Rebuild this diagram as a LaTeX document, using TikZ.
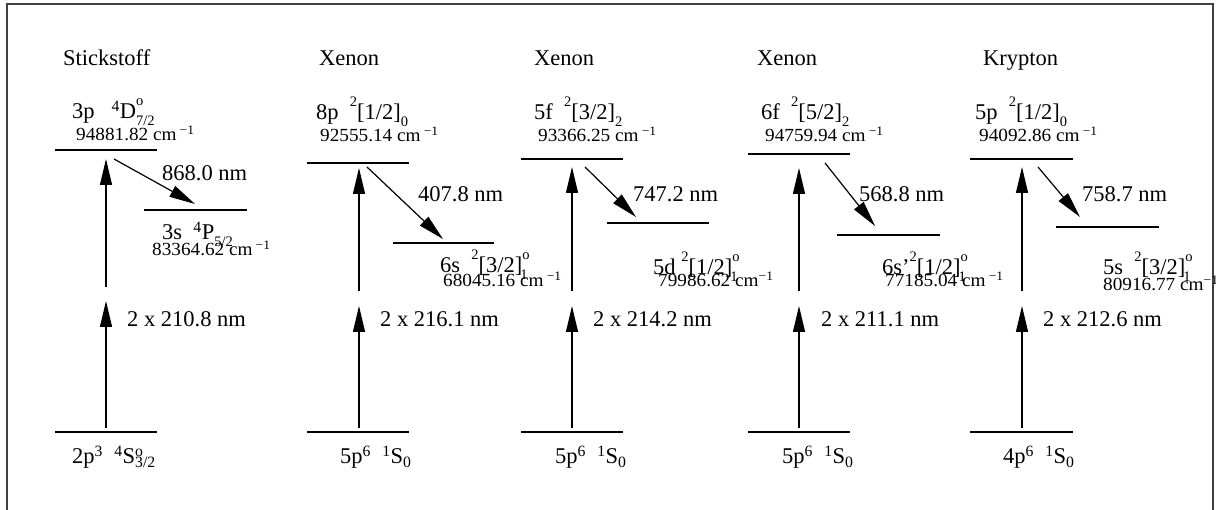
\documentclass[tikz,border=0pt]{standalone}
\usepackage{fontspec}
\setmainfont{Liberation Serif}
\newfontfamily\numfamily{Liberation Serif}[FakeStretch=1.04]
\usetikzlibrary{arrows.meta}
\newcommand{\stk}[2]{\makebox[0pt][l]{\textsuperscript{#1}}\textsubscript{#2}}
\newcommand{\hsup}[1]{\raisebox{0.6em}{\fontsize{14.5}{14.5}\selectfont #1}}
\newcommand{\lsub}[1]{\raisebox{-0.3em}{\fontsize{14.5}{14.5}\selectfont #1}}
\newcommand{\hstk}[2]{\makebox[0pt][l]{\hsup{#1}}\lsub{#2}}
\newcommand{\hstkl}[2]{\makebox[0pt][l]{\kern-2pt\lsub{#2}}\hsup{#1}}
\newcommand{\invcm}{cm\,\textsuperscript{\symbol{"2212}1}}
\newcommand{\invcmt}{cm\textsuperscript{\symbol{"2212}1}}
\begin{document}
\begin{tikzpicture}[x=1pt,y=-1pt,
  lvl/.style={line width=1.4pt},
  exc/.style={line width=1.2pt,-{Triangle[length=26pt,width=12pt]}},
  txt/.style={inner sep=0pt,anchor=base west,font=\fontsize{22.5}{26}\selectfont},
  num/.style={inner sep=0pt,anchor=base west,font=\numfamily\fontsize{18.5}{22}\selectfont}]
\useasboundingbox (0,0) rectangle (1216,510);
\draw[line width=1.5pt,black!75] (7,510) -- (7,4) -- (1213,4) -- (1213,510);

% ---------- column 1: Stickstoff ----------
\coordinate (u1a) at (55,150); \coordinate (u1b) at (157,150);
\coordinate (l1a) at (144,210); \coordinate (l1b) at (247,210);
\coordinate (g1a) at (55,432); \coordinate (g1b) at (157,432);
\draw[lvl] (u1a) -- (u1b); \draw[lvl] (l1a) -- (l1b); \draw[lvl] (g1a) -- (g1b);
\coordinate (a1s) at (106,428); \coordinate (a1m) at (106,301);
\coordinate (a1n) at (106,287); \coordinate (a1t) at (106,159);
\coordinate (d1s) at (114,159); \coordinate (d1t) at (195,204);
\draw[exc] (a1s) -- (a1m); \draw[exc] (a1n) -- (a1t); \draw[exc] (d1s) -- (d1t);
\node[txt] (t1) at (63,66) {Stickstoff};
\node[txt] (u1) at (72,119) {3p\ \ \ \textsuperscript{4}D\hstk{o}{7/2}};
\node[num] (un1) at (76,141) {94881.82 \invcm};
\node[txt] (w1) at (162,181) {868.0 nm};
\node[txt] (l1) at (162,240) {3s\ \ \textsuperscript{4}P\lsub{5/2}};
\node[num] (ln1) at (152,256) {83364.62 \invcm};
\node[txt] (x1) at (127,327) {2 x 210.8 nm};
\node[txt] (b1) at (72,464) {2p\textsuperscript{3}\ \ \textsuperscript{4}S\stk{o}{3/2}};

% ---------- column 2: Xenon 8p ----------
\coordinate (u2a) at (307,163); \coordinate (u2b) at (409,163);
\coordinate (l2a) at (393,243); \coordinate (l2b) at (494,243);
\coordinate (g2a) at (307,432); \coordinate (g2b) at (409,432);
\draw[lvl] (u2a) -- (u2b); \draw[lvl] (l2a) -- (l2b); \draw[lvl] (g2a) -- (g2b);
\coordinate (a2s) at (359,428); \coordinate (a2m) at (359,306);
\coordinate (a2n) at (359,291); \coordinate (a2t) at (359,168);
\coordinate (d2s) at (367,167); \coordinate (d2t) at (443,239);
\draw[exc] (a2s) -- (a2m); \draw[exc] (a2n) -- (a2t); \draw[exc] (d2s) -- (d2t);
\node[txt] (t2) at (319,66) {Xenon};
\node[txt] (u2) at (316,120) {8p\ \ \hsup{2}[1/2]\lsub{0}};
\node[num] (un2) at (320,142) {92555.14 \invcm};
\node[txt] (w2) at (418,202) {407.8 nm};
\node[txt] (l2) at (440,273) {6s\ \ \hsup{2}[3/2]\hstkl{o}{1}};
\node[num] (ln2) at (443,287) {68045.16 \invcm};
\node[txt] (x2) at (380,327) {2 x 216.1 nm};
\node[txt] (b2) at (340,464) {5p\textsuperscript{6}\ \ \textsuperscript{1}S\textsubscript{0}};

% ---------- column 3: Xenon 5f ----------
\coordinate (u3a) at (521,159); \coordinate (u3b) at (623,159);
\coordinate (l3a) at (607,223); \coordinate (l3b) at (709,223);
\coordinate (g3a) at (521,432); \coordinate (g3b) at (623,432);
\draw[lvl] (u3a) -- (u3b); \draw[lvl] (l3a) -- (l3b); \draw[lvl] (g3a) -- (g3b);
\coordinate (a3s) at (572,428); \coordinate (a3m) at (572,306);
\coordinate (a3n) at (572,291); \coordinate (a3t) at (572,167);
\coordinate (d3s) at (585,167); \coordinate (d3t) at (636,217);
\draw[exc] (a3s) -- (a3m); \draw[exc] (a3n) -- (a3t); \draw[exc] (d3s) -- (d3t);
\node[txt] (t3) at (534,66) {Xenon};
\node[txt] (u3) at (534,120) {5f\ \ \hsup{2}[3/2]\lsub{2}};
\node[num] (un3) at (538,142) {93366.25 \invcm};
\node[txt] (w3) at (633,202) {747.2 nm};
\node[txt] (l3) at (653,275) {5d \hsup{2}[1/2]\hstkl{o}{1}};
\node[num] (ln3) at (658,287) {79986.62 \invcmt};
\node[txt] (x3) at (593,327) {2 x 214.2 nm};
\node[txt] (b3) at (555,464) {5p\textsuperscript{6}\ \ \textsuperscript{1}S\textsubscript{0}};

% ---------- column 4: Xenon 6f ----------
\coordinate (u4a) at (748,154); \coordinate (u4b) at (850,154);
\coordinate (l4a) at (837,235); \coordinate (l4b) at (940,235);
\coordinate (g4a) at (748,432); \coordinate (g4b) at (850,432);
\draw[lvl] (u4a) -- (u4b); \draw[lvl] (l4a) -- (l4b); \draw[lvl] (g4a) -- (g4b);
\coordinate (a4s) at (799,428); \coordinate (a4m) at (799,306);
\coordinate (a4n) at (799,291); \coordinate (a4t) at (799,168);
\coordinate (d4s) at (825,163); \coordinate (d4t) at (875,226);
\draw[exc] (a4s) -- (a4m); \draw[exc] (a4n) -- (a4t); \draw[exc] (d4s) -- (d4t);
\node[txt] (t4) at (757,66) {Xenon};
\node[txt] (u4) at (761,120) {6f\ \ \hsup{2}[5/2]\lsub{2}};
\node[num] (un4) at (765,142) {94759.94 \invcm};
\node[txt] (w4) at (859,202) {568.8 nm};
\node[txt] (l4) at (882,275) {6s’\hsup{2}[1/2]\hstkl{o}{1}};
\node[num] (ln4) at (885,287) {77185.04 \invcm};
\node[txt] (x4) at (821,327) {2 x 211.1 nm};
\node[txt] (b4) at (782,464) {5p\textsuperscript{6}\ \ \textsuperscript{1}S\textsubscript{0}};

% ---------- column 5: Krypton ----------
\coordinate (u5a) at (970,159); \coordinate (u5b) at (1073,159);
\coordinate (l5a) at (1056,227); \coordinate (l5b) at (1159,227);
\coordinate (g5a) at (970,432); \coordinate (g5b) at (1073,432);
\draw[lvl] (u5a) -- (u5b); \draw[lvl] (l5a) -- (l5b); \draw[lvl] (g5a) -- (g5b);
\coordinate (a5s) at (1022,428); \coordinate (a5m) at (1022,306);
\coordinate (a5n) at (1022,291); \coordinate (a5t) at (1022,167);
\coordinate (d5s) at (1038,167); \coordinate (d5t) at (1080,217);
\draw[exc] (a5s) -- (a5m); \draw[exc] (a5n) -- (a5t); \draw[exc] (d5s) -- (d5t);
\node[txt] (t5) at (983,66) {Krypton};
\node[txt] (u5) at (975,120) {5p\ \ \hsup{2}[1/2]\lsub{0}};
\node[num] (un5) at (979,142) {94092.86 \invcm};
\node[txt] (w5) at (1082,202) {758.7 nm};
\node[txt] (l5) at (1103,275) {5s\ \ \hsup{2}[3/2]\hstkl{o}{1}};
\node[num] (ln5) at (1103,291) {80916.77 \invcmt};
\node[txt] (x5) at (1043,327) {2 x 212.6 nm};
\node[txt] (b5) at (1003,464) {4p\textsuperscript{6}\ \ \textsuperscript{1}S\textsubscript{0}};
\end{tikzpicture}
\end{document}
